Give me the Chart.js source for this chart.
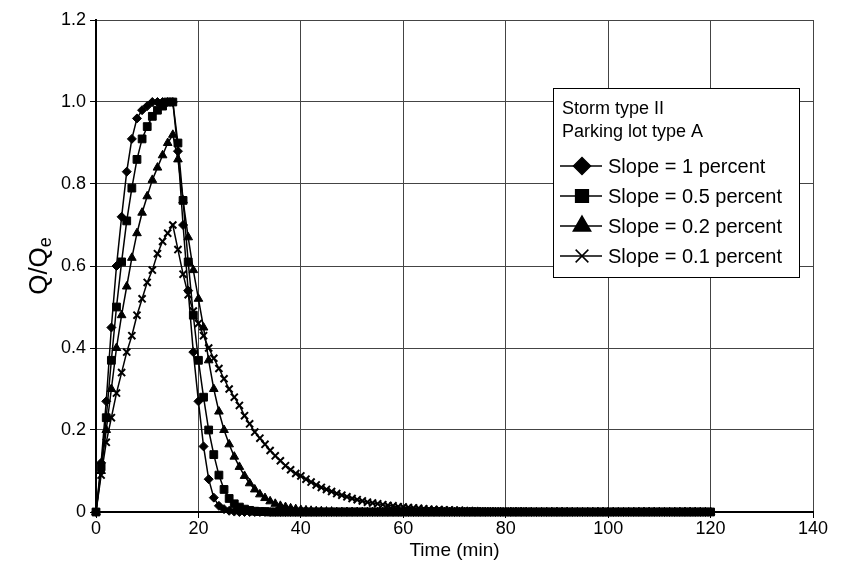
<!DOCTYPE html>
<html lang="en">
<head>
<meta charset="UTF-8">
<title>Q/Qe against time</title>
<script src="https://cdn.jsdelivr.net/npm/chart.js@4.4.1/dist/chart.umd.min.js"></script>
<style>
  html, body { margin: 0; padding: 0; background: #fff; }
  #wrap { width: 845px; height: 571px; }
</style>
</head>
<body>
<div id="wrap"><canvas id="chart"></canvas></div>
<script>
// time in minutes, one sample per minute
const minutes = [
  0, 1, 2, 3, 4, 5, 6, 7, 8, 9,
  10, 11, 12, 13, 14, 15, 16, 17, 18, 19,
  20, 21, 22, 23, 24, 25, 26, 27, 28, 29,
  30, 31, 32, 33, 34, 35, 36, 37, 38, 39,
  40, 41, 42, 43, 44, 45, 46, 47, 48, 49,
  50, 51, 52, 53, 54, 55, 56, 57, 58, 59,
  60, 61, 62, 63, 64, 65, 66, 67, 68, 69,
  70, 71, 72, 73, 74, 75, 76, 77, 78, 79,
  80, 81, 82, 83, 84, 85, 86, 87, 88, 89,
  90, 91, 92, 93, 94, 95, 96, 97, 98, 99,
  100, 101, 102, 103, 104, 105, 106, 107, 108, 109,
  110, 111, 112, 113, 114, 115, 116, 117, 118, 119,
  120
];

const slope1 = [
  0, 0.12, 0.27, 0.45, 0.60, 0.72, 0.83, 0.91, 0.96, 0.98,
  0.99, 1.0, 1.0, 1.0, 1.0, 1.0, 0.88, 0.70, 0.54, 0.39,
  0.27, 0.16, 0.08, 0.035, 0.015, 0.007, 0.003, 0.001, 0, 0,
  0, 0, 0, 0, 0, 0, 0, 0, 0, 0,
  0, 0, 0, 0, 0, 0, 0, 0, 0, 0,
  0, 0, 0, 0, 0, 0, 0, 0, 0, 0,
  0, 0, 0, 0, 0, 0, 0, 0, 0, 0,
  0, 0, 0, 0, 0, 0, 0, 0, 0, 0,
  0, 0, 0, 0, 0, 0, 0, 0, 0, 0,
  0, 0, 0, 0, 0, 0, 0, 0, 0, 0,
  0, 0, 0, 0, 0, 0, 0, 0, 0, 0,
  0, 0, 0, 0, 0, 0, 0, 0, 0, 0,
  0
];

const slope05 = [
  0, 0.11, 0.23, 0.37, 0.50, 0.61, 0.71, 0.79, 0.86, 0.91,
  0.94, 0.965, 0.98, 0.99, 1.0, 1.0, 0.90, 0.76, 0.61, 0.48,
  0.37, 0.28, 0.20, 0.14, 0.09, 0.055, 0.033, 0.02, 0.012, 0.007,
  0.004, 0.002, 0.001, 0.001, 0, 0, 0, 0, 0, 0,
  0, 0, 0, 0, 0, 0, 0, 0, 0, 0,
  0, 0, 0, 0, 0, 0, 0, 0, 0, 0,
  0, 0, 0, 0, 0, 0, 0, 0, 0, 0,
  0, 0, 0, 0, 0, 0, 0, 0, 0, 0,
  0, 0, 0, 0, 0, 0, 0, 0, 0, 0,
  0, 0, 0, 0, 0, 0, 0, 0, 0, 0,
  0, 0, 0, 0, 0, 0, 0, 0, 0, 0,
  0, 0, 0, 0, 0, 0, 0, 0, 0, 0,
  0
];

const slope02 = [
  0, 0.10, 0.20, 0.30, 0.40, 0.48, 0.55, 0.62, 0.68, 0.73,
  0.77, 0.81, 0.84, 0.87, 0.90, 0.92, 0.86, 0.76, 0.67, 0.59,
  0.52, 0.45, 0.37, 0.30, 0.245, 0.20, 0.165, 0.135, 0.11, 0.088,
  0.07, 0.055, 0.043, 0.034, 0.026, 0.02, 0.015, 0.012, 0.009, 0.007,
  0.005, 0.004, 0.003, 0.002, 0.002, 0.001, 0.001, 0, 0, 0,
  0, 0, 0, 0, 0, 0, 0, 0, 0, 0,
  0, 0, 0, 0, 0, 0, 0, 0, 0, 0,
  0, 0, 0, 0, 0, 0, 0, 0, 0, 0,
  0, 0, 0, 0, 0, 0, 0, 0, 0, 0,
  0, 0, 0, 0, 0, 0, 0, 0, 0, 0,
  0, 0, 0, 0, 0, 0, 0, 0, 0, 0,
  0, 0, 0, 0, 0, 0, 0, 0, 0, 0,
  0
];

const slope01 = [
  0, 0.09, 0.17, 0.23, 0.29, 0.34, 0.39, 0.43, 0.48, 0.52,
  0.56, 0.59, 0.63, 0.66, 0.68, 0.70, 0.64, 0.58, 0.53, 0.49,
  0.46, 0.43, 0.40, 0.375, 0.35, 0.325, 0.30, 0.28, 0.26, 0.235,
  0.215, 0.195, 0.18, 0.165, 0.15, 0.137, 0.125, 0.113, 0.103, 0.094,
  0.088, 0.08, 0.073, 0.066, 0.06, 0.055, 0.05, 0.045, 0.041, 0.037,
  0.033, 0.030, 0.027, 0.024, 0.022, 0.020, 0.018, 0.016, 0.015, 0.013,
  0.012, 0.011, 0.010, 0.009, 0.008, 0.007, 0.006, 0.006, 0.005, 0.005,
  0.004, 0.004, 0.003, 0.003, 0.003, 0.002, 0.002, 0.002, 0.002, 0.001,
  0.001, 0.001, 0.001, 0.001, 0.001, 0, 0, 0, 0, 0,
  0, 0, 0, 0, 0, 0, 0, 0, 0, 0,
  0, 0, 0, 0, 0, 0, 0, 0, 0, 0,
  0, 0, 0, 0, 0, 0, 0, 0, 0, 0,
  0
];

const seriesNames = ['Slope = 1 percent', 'Slope = 0.5 percent', 'Slope = 0.2 percent', 'Slope = 0.1 percent'];
const legendTitle = ['Storm type II', 'Parking lot type A'];
const xTicks = [0, 20, 40, 60, 80, 100, 120, 140];
const yTicks = [0, 0.2, 0.4, 0.6, 0.8, 1.0, 1.2];

const FONT = "'Liberation Sans', Arial, Helvetica, sans-serif";

function pts(vals) {
  return vals.map(function (v, i) { return { x: minutes[i], y: v }; });
}

// marker look for plot and legend
const markers = [
  { style: 'rectRot',  r: 4.5, lr: 8.5, bw: 1 },
  { style: 'rect',     r: 5.5, lr: 9,   bw: 1 },
  { style: 'triangle', r: 5,   lr: 10,  bw: 1 },
  { style: 'crossRot', r: 5,   lr: 9,   bw: 2 }
];

const allSeries = [slope1, slope05, slope02, slope01];
const datasets = allSeries.map(function (vals, k) {
  return {
    label: seriesNames[k],
    data: pts(vals),
    showLine: true,
    borderColor: '#000',
    backgroundColor: '#000',
    borderWidth: 1.5,
    pointStyle: markers[k].style,
    pointRadius: markers[k].r,
    pointBorderWidth: markers[k].bw,
    pointBackgroundColor: '#000',
    pointBorderColor: '#000',
    tension: 0,
    clip: 8
  };
});

// y title with a real subscript
const yTitlePlugin = {
  id: 'yTitle',
  afterDraw: function (chart) {
    const ctx = chart.ctx;
    const a = chart.chartArea;
    ctx.save();
    ctx.translate(40, (a.top + a.bottom) / 2);
    ctx.rotate(-Math.PI / 2);
    ctx.fillStyle = '#000';
    ctx.textBaseline = 'middle';
    ctx.font = '26px ' + FONT;
    const main = 'Q/Q';
    const w1 = ctx.measureText(main).width;
    ctx.font = '18px ' + FONT;
    const w2 = ctx.measureText('e').width;
    const x0 = -(w1 + w2) / 2;
    ctx.font = '26px ' + FONT;
    ctx.fillText(main, x0, 0);
    ctx.font = '18px ' + FONT;
    ctx.fillText('e', x0 + w1, 6);
    ctx.restore();
  }
};

// boxed legend inside the plot, as in the original
const boxLegend = {
  id: 'boxLegend',
  afterDraw: function (chart) {
    const ctx = chart.ctx;
    const bx = 553, by = 88, bw = 246, bh = 189;
    ctx.save();
    ctx.fillStyle = '#fff';
    ctx.fillRect(bx, by, bw, bh);
    ctx.strokeStyle = '#000';
    ctx.lineWidth = 1;
    ctx.strokeRect(bx + 0.5, by + 0.5, bw, bh);

    ctx.fillStyle = '#000';
    ctx.textBaseline = 'middle';
    ctx.font = '18px ' + FONT;
    ctx.fillText(legendTitle[0], bx + 9, by + 21);
    ctx.fillText(legendTitle[1], bx + 9, by + 44);

    ctx.font = '20px ' + FONT;
    chart.data.datasets.forEach(function (ds, k) {
      const y = 166 + k * 30;
      ctx.strokeStyle = '#000';
      ctx.lineWidth = 1.5;
      ctx.beginPath();
      ctx.moveTo(bx + 7, y);
      ctx.lineTo(bx + 49, y);
      ctx.stroke();
      ctx.fillStyle = '#000';
      Chart.helpers.drawPoint(ctx, {
        pointStyle: markers[k].style,
        radius: markers[k].lr,
        borderWidth: markers[k].bw,
        rotation: 0
      }, bx + 29, y);
      ctx.fillStyle = '#000';
      ctx.fillText(ds.label, bx + 55, y + 1);
    });
    ctx.restore();
  }
};

new Chart(document.getElementById('chart'), {
  type: 'scatter',
  data: { datasets: datasets },
  options: {
    responsive: true,
    maintainAspectRatio: false,
    animation: false,
    devicePixelRatio: 1,
    layout: { padding: { top: 20, right: 32, left: 0, bottom: 0 } },
    plugins: {
      legend: { display: false },
      tooltip: { enabled: false }
    },
    scales: {
      x: {
        type: 'linear',
        min: 0,
        max: 140,
        afterBuildTicks: function (s) { s.ticks = xTicks.map(function (v) { return { value: v }; }); },
        afterFit: function (s) { s.height = 59; },
        ticks: { color: '#000', font: { family: FONT, size: 18 }, padding: 0, maxRotation: 0 },
        grid: { color: '#444', lineWidth: 1, tickLength: 6, tickColor: '#000' },
        border: { color: '#000', width: 2 },
        title: { display: true, text: 'Time (min)', color: '#000', font: { family: FONT, size: 19 }, padding: { top: 0, bottom: 9 } }
      },
      y: {
        min: 0,
        max: 1.2,
        afterBuildTicks: function (s) { s.ticks = yTicks.map(function (v) { return { value: v }; }); },
        afterFit: function (s) { s.width = 96; },
        ticks: {
          color: '#000',
          font: { family: FONT, size: 18 },
          padding: 4,
          callback: function (v) { return v === 0 ? '0' : v.toFixed(1); }
        },
        grid: { color: '#444', lineWidth: 1, tickLength: 6, tickColor: '#000' },
        border: { color: '#000', width: 2 }
      }
    }
  },
  plugins: [yTitlePlugin, boxLegend]
});
</script>
</body>
</html>
